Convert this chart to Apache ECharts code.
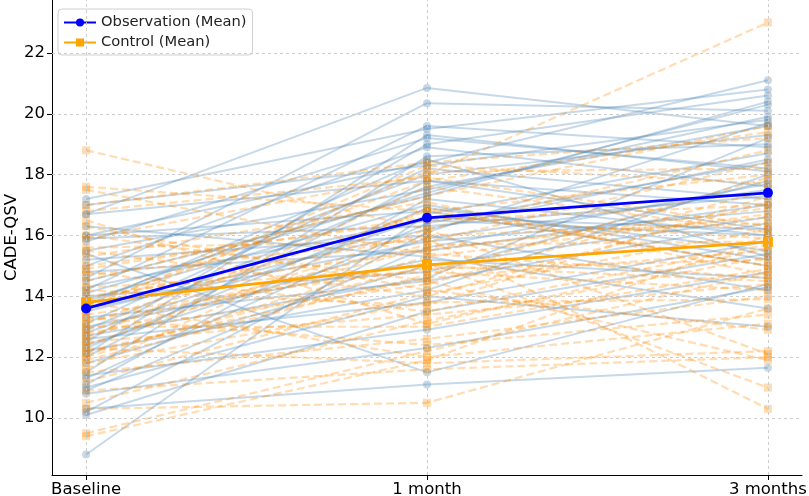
<!DOCTYPE html>
<html>
<head>
<meta charset="utf-8">
<script src="https://cdn.jsdelivr.net/npm/echarts@6/dist/echarts.min.js"></script>
<style>html,body{margin:0;padding:0;background:#fff}#c{width:809px;height:496px}</style>
</head>
<body>
<div id="c"></div>
<script>
const categories = ['Baseline', '1 month', '3 months'];
const yTicks = [10, 12, 14, 16, 18, 20, 22];

const obsBaseline = [17.2,17.0,16.7,16.7,16.0,16.0,15.8,15.5,15.2,15.0,14.8,14.5,14.3,14.2,14.0,13.9,13.8,13.6,13.5,13.3,13.1,13.0,12.9,12.8,12.6,12.5,12.4,12.3,12.2,12.0,11.8,11.5,11.4,11.3,11.1,11.0,10.9,10.8,10.3,10.2,10.1,8.8,14.6,15.4,13.7,12.7,14.1,16.3,12.1,15.9];
const obsMonth1   = [19.5,18.3,20.85,17.8,18.4,16.8,19.2,17.5,16.0,18.9,15.5,17.3,16.5,19.6,14.8,17.0,18.0,15.8,16.2,14.5,18.2,15.2,17.6,16.6,13.8,19.0,15.9,16.9,14.2,17.8,15.0,18.6,12.9,16.4,17.2,14.0,15.6,12.3,11.1,16.1,13.5,16.7,20.35,11.5,18.5,14.6,17.4,15.3,19.3,16.3];
const obsMonth3   = [20.8,19.8,19.6,16.2,21.1,15.0,18.2,19.9,14.2,17.6,17.0,20.4,16.0,18.9,17.8,15.2,19.3,16.8,18.5,16.4,17.2,14.6,19.6,16.2,15.8,20.6,17.5,15.5,18.0,17.0,16.6,19.0,14.8,18.4,16.0,13.0,17.7,14.3,11.65,19.7,15.4,18.7,20.1,14.4,15.3,19.2,20.3,13.6,18.1,17.3];

const ctlBaseline = [18.8,17.6,17.5,16.8,16.3,15.9,15.6,15.0,14.8,14.5,14.3,14.0,13.9,13.8,13.6,13.4,13.2,13.1,13.0,12.9,12.8,12.6,12.5,12.4,12.3,12.2,12.0,11.8,11.6,11.5,11.2,10.9,10.5,10.3,9.5,9.4,17.0,16.0,15.3,14.7,14.2,13.5,13.3,12.7,14.9,15.5,13.7,12.1,16.5,11.9];
const ctlMonth1   = [16.2,16.8,15.4,17.9,14.2,18.0,15.8,16.5,13.5,17.3,14.8,15.5,16.0,12.0,18.3,14.9,15.1,16.8,13.0,15.7,14.4,17.6,13.4,16.2,11.8,14.6,15.3,13.8,16.9,12.6,14.1,11.6,13.2,10.5,12.2,11.9,18.4,14.5,17.1,15.9,13.7,18.1,12.4,15.6,16.6,14.0,17.8,15.0,13.1,14.7];
const ctlMonth3   = [12.1,15.0,14.6,16.3,12.9,23.0,18.4,17.0,15.7,19.6,14.2,16.9,16.4,13.1,17.7,15.2,11.0,18.0,14.9,15.8,17.5,16.1,14.4,18.8,12.2,15.5,16.7,13.9,15.0,14.0,16.2,12.0,15.3,13.6,14.8,16.0,19.2,11.9,14.7,10.3,17.3,18.2,13.4,16.6,15.9,17.1,19.4,14.5,15.6,17.9];

const obsMean = [13.6, 16.58, 17.4];
const ctlMean = [13.8, 15.03, 15.79];

const series = [];

// grid lines (drawn under everything)
series.push({
  type: 'line', data: [], silent: true, z: 0, animation: false,
  markLine: {
    silent: true, symbol: 'none', animation: false, label: {show: false},
    lineStyle: {color: '#c8c8c8', type: [3, 3], width: 0.9},
    data: yTicks.map(v => ({yAxis: v})).concat(categories.map((c, i) => ({xAxis: i})))
  }
});

function toData(a, b, c) { return [[0, a], [1, b], [2, c]]; }

for (let k = 0; k < obsBaseline.length; k++) {
  series.push({
    type: 'line', name: 'obs' + k, z: 2,
    data: toData(obsBaseline[k], obsMonth1[k], obsMonth3[k]),
    symbol: 'circle', symbolSize: 8, showSymbol: true,
    lineStyle: {color: '#4682b4', width: 2, opacity: 0.3},
    itemStyle: {color: '#4682b4', opacity: 0.3},
    emphasis: {disabled: true}, silent: true
  });
}
for (let k = 0; k < ctlBaseline.length; k++) {
  series.push({
    type: 'line', name: 'ctl' + k, z: 2,
    data: toData(ctlBaseline[k], ctlMonth1[k], ctlMonth3[k]),
    symbol: 'rect', symbolSize: 8, showSymbol: true,
    lineStyle: {color: '#ff8c00', width: 2.2, opacity: 0.3, type: [8, 4]},
    itemStyle: {color: '#ff8c00', opacity: 0.3},
    emphasis: {disabled: true}, silent: true
  });
}
series.push({
  type: 'line', name: 'Observation (Mean)', z: 5,
  data: toData(obsMean[0], obsMean[1], obsMean[2]),
  symbol: 'circle', symbolSize: 10,
  lineStyle: {color: '#0000ff', width: 2.8},
  itemStyle: {color: '#0000ff'}
});
series.push({
  type: 'line', name: 'Control (Mean)', z: 4,
  data: toData(ctlMean[0], ctlMean[1], ctlMean[2]),
  symbol: 'rect', symbolSize: 10,
  lineStyle: {color: '#ffa500', width: 2.8},
  itemStyle: {color: '#ffa500'}
});

const font = 'DejaVu Sans';
const chart = echarts.init(document.getElementById('c'), null, {renderer: 'canvas'});
chart.setOption({
  animation: false,
  backgroundColor: '#fff',
  grid: {left: 52, right: 7, top: 0, bottom: 21, containLabel: false, outerBoundsMode: 'none'},
  legend: {
    data: ['Observation (Mean)', 'Control (Mean)'],
    orient: 'vertical', left: 58, top: 9,
    itemWidth: 32, itemHeight: 10, itemGap: 5,
    padding: [6, 6, 5, 5],
    backgroundColor: 'rgba(255,255,255,0.85)',
    borderColor: '#d0d0d0', borderWidth: 1, borderRadius: 4,
    textStyle: {fontFamily: font, fontSize: 14.7, color: '#222'}
  },
  xAxis: {
    type: 'value', min: -0.1, max: 2.1,
    axisLine: {show: true, onZero: false, lineStyle: {color: '#000', width: 1}},
    axisTick: {show: true, length: 5, customValues: [0, 1, 2], lineStyle: {color: '#000'}},
    axisLabel: {customValues: [0, 1, 2], formatter: v => categories[Math.round(v)], fontFamily: font, fontSize: 16.5, color: '#000', margin: 6},
    splitLine: {show: false}
  },
  yAxis: {
    type: 'value', min: 8.126, max: 23.74,
    name: 'CADE-QSV', nameLocation: 'middle', nameGap: 32, nameRotate: 90, nameMoveOverlap: false,
    nameTextStyle: {fontFamily: font, fontSize: 16.5, color: '#000'},
    axisLine: {show: true, onZero: false, lineStyle: {color: '#000', width: 1}},
    axisTick: {show: true, length: 5, customValues: yTicks, lineStyle: {color: '#000'}},
    axisLabel: {customValues: yTicks, fontFamily: font, fontSize: 16.5, color: '#000', margin: 7},
    splitLine: {show: false}
  },
  series: series
});
</script>
</body>
</html>
